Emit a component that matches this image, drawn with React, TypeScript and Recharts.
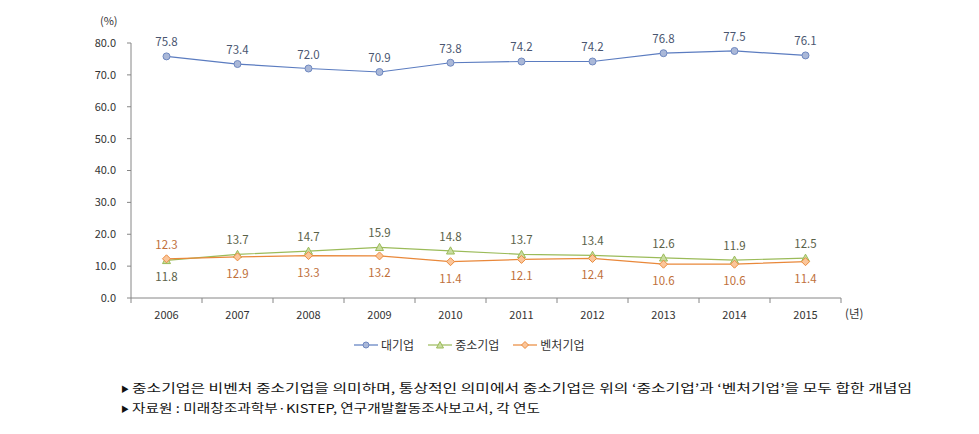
import React from 'react';
import { LineChart, Line, XAxis, YAxis } from 'recharts';

const years = ['2006', '2007', '2008', '2009', '2010', '2011', '2012', '2013', '2014', '2015'];
const large = [75.8, 73.4, 72.0, 70.9, 73.8, 74.2, 74.2, 76.8, 77.5, 76.1];
const sme = [11.8, 13.7, 14.7, 15.9, 14.8, 13.7, 13.4, 12.6, 11.9, 12.5];
const venture = [12.3, 12.9, 13.3, 13.2, 11.4, 12.1, 12.4, 10.6, 10.6, 11.4];
const yTicks = [0, 10, 20, 30, 40, 50, 60, 70, 80];

const data = years.map((y, i) => ({ year: y, large: large[i], sme: sme[i], venture: venture[i] }));

const FONT = '"Noto Sans CJK KR", "Noto Sans", sans-serif';
const AXIS = '#868686';
const HALF_BAND = 35.5;

const C = {
  large: { line: '#5b7cc0', fill: '#aab8d8', stroke: '#6f88c0', text: '#4a5670' },
  sme: { line: '#9bbb59', fill: '#c9dca0', stroke: '#9bbb59', text: '#5a6148' },
  venture: { line: '#e9883a', fill: '#fbc69a', stroke: '#ea8c40', text: '#c0703a' },
};

const CircleDot = (props: any) => {
  const { cx, cy } = props;
  if (cx == null || cy == null) return null;
  return <circle cx={cx} cy={cy} r={3.5} fill={C.large.fill} stroke={C.large.stroke} strokeWidth={1} />;
};

const TriDot = (props: any) => {
  const { cx, cy } = props;
  if (cx == null || cy == null) return null;
  const s = 4;
  return (
    <polygon
      points={`${cx},${cy - s} ${cx + s},${cy + s * 0.8} ${cx - s},${cy + s * 0.8}`}
      fill={C.sme.fill}
      stroke={C.sme.stroke}
      strokeWidth={1}
    />
  );
};

const DiamondDot = (props: any) => {
  const { cx, cy } = props;
  if (cx == null || cy == null) return null;
  const s = 4;
  return (
    <polygon
      points={`${cx},${cy - s} ${cx + s},${cy} ${cx},${cy + s} ${cx - s},${cy}`}
      fill={C.venture.fill}
      stroke={C.venture.stroke}
      strokeWidth={1}
    />
  );
};

const makeLabel = (color: string, below: (i: number) => boolean) => (props: any) => {
  const { x, y, value, index } = props;
  const dy = below(index) ? 16 : -15;
  return (
    <text
      x={x}
      y={y + dy}
      textAnchor="middle"
      dominantBaseline="central"
      fontSize={11.5}
      fontFamily={FONT}
      fill={color}
    >
      {Number(value).toFixed(1)}
    </text>
  );
};

const XTick = (props: any) => {
  const { x, y, payload, index } = props;
  return (
    <g>
      <line x1={x - HALF_BAND} y1={y} x2={x - HALF_BAND} y2={y + 5} stroke={AXIS} />
      {index === years.length - 1 && (
        <line x1={x + HALF_BAND} y1={y} x2={x + HALF_BAND} y2={y + 5} stroke={AXIS} />
      )}
      <text x={x} y={y + 16} textAnchor="middle" dominantBaseline="central" fontSize={11} fontFamily={FONT} fill="#333">
        {payload.value}
      </text>
    </g>
  );
};

const LegendItem = ({ kind, label }: { kind: 'large' | 'sme' | 'venture'; label: string }) => {
  const c = C[kind];
  return (
    <div style={{ display: 'flex', alignItems: 'center', marginRight: 14 }}>
      <svg width={24} height={10} style={{ marginRight: 3 }}>
        <line x1={0} y1={5} x2={24} y2={5} stroke={c.line} strokeWidth={1.2} />
        {kind === 'large' && <circle cx={12} cy={5} r={3} fill={c.fill} stroke={c.stroke} />}
        {kind === 'sme' && <polygon points="12,1.5 15.5,8 8.5,8" fill={c.fill} stroke={c.stroke} />}
        {kind === 'venture' && <polygon points="12,1.5 15.5,5 12,8.5 8.5,5" fill={c.fill} stroke={c.stroke} />}
      </svg>
      <span style={{ fontSize: 12, color: '#333' }}>{label}</span>
    </div>
  );
};

export default function App() {
  return (
    <div style={{ position: 'absolute', left: 0, top: 0, width: 979, height: 434, background: '#fff', fontFamily: FONT }}>
      <LineChart width={979} height={330} data={data} margin={{ top: 43, right: 138, bottom: 2, left: 71 }}>
        <XAxis
          dataKey="year"
          padding={{ left: HALF_BAND, right: HALF_BAND }}
          stroke={AXIS}
          tickLine={false}
          tickSize={0}
          tickMargin={0}
          height={30}
          tick={<XTick />}
          interval={0}
        />
        <YAxis
          domain={[0, 80]}
          ticks={yTicks}
          width={60}
          stroke={AXIS}
          tickSize={4}
          tickMargin={11}
          tickFormatter={(v: number) => v.toFixed(1)}
          tick={{ fontSize: 11, fill: '#333', fontFamily: FONT }}
        />
        <Line
          dataKey="large"
          stroke={C.large.line}
          strokeWidth={1.2}
          dot={<CircleDot />}
          isAnimationActive={false}
          label={makeLabel(C.large.text, () => false)}
        />
        <Line
          dataKey="sme"
          stroke={C.sme.line}
          strokeWidth={1.2}
          dot={<TriDot />}
          isAnimationActive={false}
          label={makeLabel(C.sme.text, (i) => i === 0)}
        />
        <Line
          dataKey="venture"
          stroke={C.venture.line}
          strokeWidth={1.2}
          dot={<DiamondDot />}
          isAnimationActive={false}
          label={makeLabel(C.venture.text, (i) => i !== 0)}
        />
      </LineChart>
      <div style={{ position: 'absolute', left: 100, top: 12, fontSize: 11, color: '#333' }}>(%)</div>
      <div style={{ position: 'absolute', left: 845, top: 305, fontSize: 11.5, color: '#333' }}>(년)</div>
      <div style={{ position: 'absolute', left: 354, top: 336, display: 'flex' }}>
        <LegendItem kind="large" label="대기업" />
        <LegendItem kind="sme" label="중소기업" />
        <LegendItem kind="venture" label="벤처기업" />
      </div>
      <svg style={{ position: 'absolute', left: 0, top: 378 }} width={979} height={45}>
        <text x={121} y={14} fontSize={8} fontFamily={FONT} fill="#111">▶</text>
        <text x={132} y={15} fontSize={12} fontFamily={FONT} fill="#111" textLength={780} lengthAdjust="spacingAndGlyphs">
          중소기업은 비벤처 중소기업을 의미하며, 통상적인 의미에서 중소기업은 위의 ‘중소기업’과 ‘벤처기업’을 모두 합한 개념임
        </text>
        <text x={121} y={34} fontSize={8} fontFamily={FONT} fill="#111">▶</text>
        <text x={132} y={35} fontSize={12} fontFamily={FONT} fill="#111" textLength={408} lengthAdjust="spacingAndGlyphs">
          자료원 : 미래창조과학부·KISTEP, 연구개발활동조사보고서, 각 연도
        </text>
      </svg>
    </div>
  );
}
